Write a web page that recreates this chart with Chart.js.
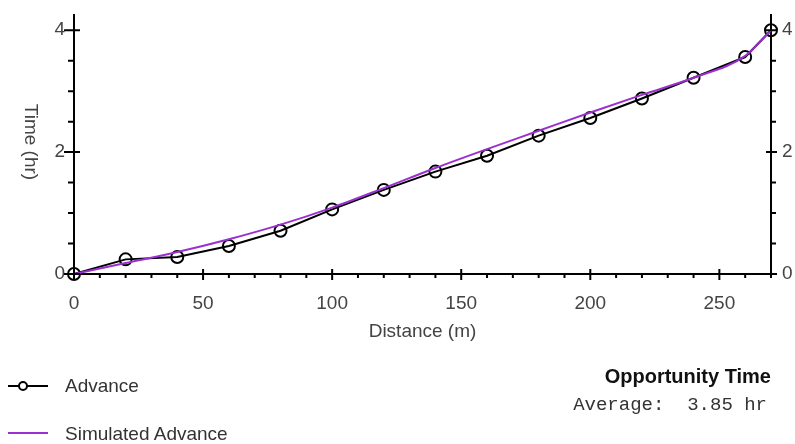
<!DOCTYPE html>
<html>
<head>
<meta charset="utf-8">
<title>Advance</title>
<script src="https://cdn.jsdelivr.net/npm/chart.js@4.4.1/dist/chart.umd.min.js"></script>
<style>
  body { margin: 0; background: #fff; }
  #wrap { position: relative; width: 795px; height: 444px; font-family: Arial, "Liberation Sans", sans-serif; color: #333; }
  #chart { position: absolute; left: 0; top: 0; }
  .line { position: absolute; left: 8px; width: 40px; height: 2px; }
  .dot { position: absolute; box-sizing: border-box; width: 10px; height: 10px; border: 2px solid #000; border-radius: 50%; background: #fff; }
  .lbl { position: absolute; left: 65px; font-size: 19px; line-height: 20px; white-space: nowrap; }
  #opp { position: absolute; right: 24px; top: 366px; font-size: 20px; line-height: 20px; font-weight: bold; color: #111; }
  #avg { position: absolute; right: 28px; top: 396px; font-family: "Liberation Mono", "Courier New", monospace; font-size: 19px; line-height: 19px; white-space: pre; color: #333; }
</style>
</head>
<body>
<div id="wrap">
  <canvas id="chart" width="795" height="444"></canvas>
  <div class="line" style="top:385px; background:#000"></div>
  <div class="dot" style="left:18px; top:381px"></div>
  <div class="lbl" style="top:376px">Advance</div>
  <div class="line" style="top:432px; background:#9b30d0"></div>
  <div class="lbl" style="top:424px">Simulated Advance</div>
  <div id="opp">Opportunity Time</div>
  <div id="avg">Average:  3.85 hr</div>
</div>
<script>
// data
const distance = [0, 20, 40, 60, 80, 100, 120, 140, 160, 180, 200, 220, 240, 260, 270];
const advanceTime = [0, 0.24, 0.28, 0.46, 0.71, 1.06, 1.38, 1.68, 1.94, 2.27, 2.56, 2.88, 3.22, 3.56, 4.0];
const simulatedTime = [0, 0.18, 0.36, 0.57, 0.81, 1.09, 1.41, 1.74, 2.05, 2.35, 2.65, 2.94, 3.22, 3.58, 4.0];
const xTicks = [0, 50, 100, 150, 200, 250];
const yTicks = [0, 2, 4];

const labelColor = '#444';
const labelFont = { family: 'Arial, "Liberation Sans", sans-serif', size: 19 };

// pin the scale boxes so the plot area lands where the reference has it
const fixBox = (w, h) => s => {
  if (w !== null) s.width = w;
  if (h !== null) s.height = h;
  s.paddingTop = 0;
  s.paddingBottom = 0;
  s.paddingLeft = 0;
  s.paddingRight = 0;
};

// minor/major tick marks and the axis titles
const axisDecor = {
  id: 'axisDecor',
  afterDraw(chart) {
    const { ctx, chartArea, scales } = chart;
    const x = scales.x, y = scales.y;
    ctx.save();
    ctx.strokeStyle = '#000';
    ctx.lineWidth = 2;
    ctx.beginPath();
    // x axis: minor every 10, major on labelled ticks
    for (let v = 0; v <= 270; v += 10) {
      const px = x.getPixelForValue(v);
      if (xTicks.includes(v)) {
        ctx.moveTo(px, chartArea.bottom - 5);
        ctx.lineTo(px, chartArea.bottom + 6);
      } else {
        ctx.moveTo(px, chartArea.bottom);
        ctx.lineTo(px, chartArea.bottom + 4);
      }
    }
    // y axes: minor every 0.5
    for (let v = 0; v <= 4; v += 0.5) {
      const py = y.getPixelForValue(v);
      if (yTicks.includes(v)) {
        ctx.moveTo(chartArea.left - 10, py);
        ctx.lineTo(chartArea.left + 6, py);
        ctx.moveTo(chartArea.right - 5, py);
        ctx.lineTo(chartArea.right + 6, py);
      } else {
        ctx.moveTo(chartArea.left - 6, py);
        ctx.lineTo(chartArea.left, py);
        ctx.moveTo(chartArea.right, py);
        ctx.lineTo(chartArea.right + 5, py);
      }
    }
    ctx.stroke();

    ctx.fillStyle = labelColor;
    ctx.font = '19px Arial, "Liberation Sans", sans-serif';
    ctx.textAlign = 'center';
    ctx.textBaseline = 'middle';
    ctx.fillText('Distance (m)', (chartArea.left + chartArea.right) / 2, 332);
    ctx.translate(30, 142);
    ctx.rotate(Math.PI / 2);
    ctx.fillText('Time (hr)', 0, 0);
    ctx.restore();
  }
};

new Chart(document.getElementById('chart'), {
  type: 'line',
  data: {
    datasets: [
      {
        label: 'Advance',
        data: distance.map((d, i) => ({ x: d, y: advanceTime[i] })),
        borderColor: '#000',
        borderWidth: 2,
        pointStyle: 'circle',
        pointRadius: 6,
        pointBorderWidth: 2,
        pointBorderColor: '#000',
        pointBackgroundColor: 'rgba(0,0,0,0)',
        tension: 0,
        clip: false,
        order: 1
      },
      {
        label: 'Simulated Advance',
        data: distance.map((d, i) => ({ x: d, y: simulatedTime[i] })),
        borderColor: '#9b30d0',
        borderWidth: 2,
        pointRadius: 0,
        cubicInterpolationMode: 'monotone',
        clip: false,
        order: 0
      }
    ]
  },
  options: {
    responsive: false,
    animation: false,
    devicePixelRatio: 1,
    layout: { padding: { top: 15, left: 0, right: 0, bottom: 0 } },
    plugins: {
      legend: { display: false },
      tooltip: { enabled: false }
    },
    scales: {
      x: {
        type: 'linear',
        min: 0,
        max: 270,
        afterBuildTicks: s => { s.ticks = xTicks.map(v => ({ value: v })); },
        afterFit: fixBox(null, 170),
        grid: { display: false, drawTicks: false, tickLength: 0 },
        border: { color: '#000', width: 2 },
        ticks: { color: labelColor, font: labelFont, padding: 18, maxRotation: 0 }
      },
      y: {
        position: 'left',
        min: 0,
        max: 4.25,
        afterBuildTicks: s => { s.ticks = yTicks.map(v => ({ value: v })); },
        afterFit: fixBox(74, null),
        grid: { display: false, drawTicks: false, tickLength: 0 },
        border: { color: '#000', width: 2 },
        ticks: { color: labelColor, font: labelFont, padding: 9 }
      },
      y2: {
        position: 'right',
        min: 0,
        max: 4.25,
        afterBuildTicks: s => { s.ticks = yTicks.map(v => ({ value: v })); },
        afterFit: fixBox(24, null),
        grid: { display: false, drawTicks: false, tickLength: 0 },
        border: { color: '#000', width: 2 },
        ticks: { color: labelColor, font: labelFont, padding: 11 }
      }
    }
  },
  plugins: [axisDecor]
});
</script>
</body>
</html>
